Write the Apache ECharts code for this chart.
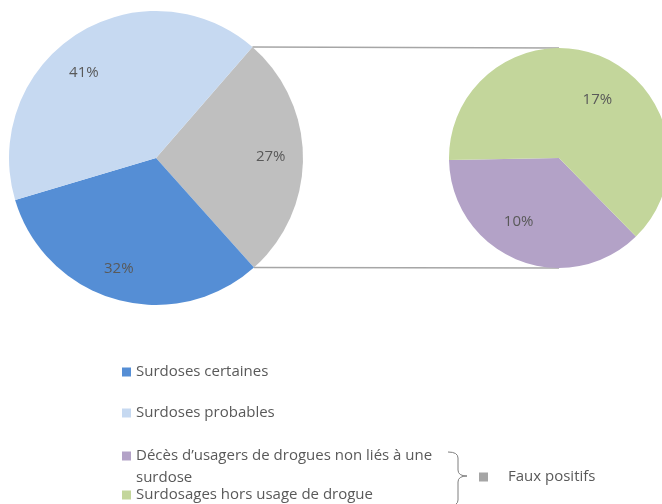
<!DOCTYPE html>
<html>
<head>
<meta charset="utf-8">
<script src="https://cdn.jsdelivr.net/npm/echarts@6/dist/echarts.min.js"></script>
<style>
  html, body { margin: 0; padding: 0; background: #ffffff; }
  #chart { width: 662px; height: 504px; }
</style>
</head>
<body>
<div id="chart"></div>
<script>
// Main pie: all deaths flagged, in percent
const mainCategories = ['Faux positifs', 'Surdoses certaines', 'Surdoses probables'];
const mainValues = [27, 32, 41];

// Secondary pie: breakdown of the false positives, in percent of all deaths
const detailCategories = ['Décès d’usagers de drogues non liés à une surdose', 'Surdosages hors usage de drogue'];
const detailValues = [10, 17];

// Legend order as displayed under the pies
const legendOrder = ['Surdoses certaines', 'Surdoses probables',
  'Décès d’usagers de drogues non liés à une surdose', 'Surdosages hors usage de drogue'];
const groupLabel = 'Faux positifs';

// ---- styling and layout ----
const COLORS = {
  'Faux positifs': '#bfbfbf',
  'Surdoses certaines': '#558ed5',
  'Surdoses probables': '#c6d9f1',
  'Décès d’usagers de drogues non liés à une surdose': '#b3a2c7',
  'Surdosages hors usage de drogue': '#c3d69b'
};
const FONT = 'Open Sans';
const FONT_SIZE = 15;
const TEXT_COLOR = '#595959';
const MAIN_C = [156, 158], MAIN_R = 147, MAIN_START = 49;
const DET_C = [559, 158], DET_R = 110, DET_START = 314.4;
const DET_LABEL_TURN = -10;   // label ring of the small pie sits a little ahead of slice middles
// small per-label shifts away from the slice middle (px)
const LABEL_NUDGE = {
  'Surdoses probables': [-10, 11],
  'Surdoses certaines': [-6, 0],
  'Surdosages hors usage de drogue': [-2, 6]
};

const pct = p => p.value + '%';
const rad = a => a * Math.PI / 180;

function pieData(names, values) {
  return names.map((n, i) => ({ name: n, value: values[i], itemStyle: { color: COLORS[n] } }));
}
function labelRing(names, values, center, r, inner, start) {
  return {
    type: 'pie', silent: true, center: center, radius: [r * inner, r],
    startAngle: start, clockwise: true, animation: false, z: 5,
    data: names.map((n, i) => ({ name: n, value: values[i] })),
    itemStyle: { color: 'rgba(0,0,0,0)' },
    label: { show: true, position: 'inside', formatter: pct,
             fontFamily: FONT, fontSize: FONT_SIZE, color: TEXT_COLOR },
    labelLine: { show: false },
    labelLayout: p => {
      const d = LABEL_NUDGE[names[p.dataIndex]] || [0, 0];
      return { dx: d[0], dy: d[1] };
    },
    emphasis: { disabled: true }
  };
}

// connector lines from the edges of the false-positive slice to the small pie
const mainTotal = mainValues.reduce((a, b) => a + b, 0);
const a0 = MAIN_START;
const a1 = MAIN_START - mainValues[0] / mainTotal * 360;
const edge = a => [MAIN_C[0] + MAIN_R * Math.cos(rad(a)), MAIN_C[1] - MAIN_R * Math.sin(rad(a))];
const p0 = edge(a0), p1 = edge(a1);

// legend rows: [name, left, top]
const legendRows = [
  [legendOrder[0], 122, 364],
  [legendOrder[1], 122, 405],
  [legendOrder[2], 122, 423],
  [legendOrder[3], 122, 487]
];
// the long entry wraps; a leading empty line keeps its first line level with the swatch
const legendText = n => n === legendOrder[2]
  ? '\u00a0\nDécès d’usagers de drogues non liés à une\nsurdose' : n;
const legends = legendRows.map(([name, left, top]) => ({
  left: left, top: top, padding: 0, orient: 'vertical', selectedMode: false,
  icon: 'rect', itemWidth: 9, itemHeight: 9,
  data: [name],
  formatter: legendText,
  textStyle: { fontFamily: FONT, fontSize: FONT_SIZE, color: TEXT_COLOR,
               lineHeight: name === legendOrder[2] ? 22 : 16 }
}));
legends.push({
  left: 479, top: 469, padding: 0, selectedMode: false,
  icon: 'rect', itemWidth: 9, itemHeight: 9, itemGap: 0,
  data: [{ name: groupLabel, itemStyle: { color: '#a5a5a5' } }],
  formatter: n => '\u2003' + n,
  textStyle: { fontFamily: FONT, fontSize: FONT_SIZE, color: TEXT_COLOR, lineHeight: 16 }
});

// brace grouping the two false-positive categories
const braceStyle = { stroke: '#7f7f7f', lineWidth: 1, fill: 'none' };
const brace = [
  { type: 'bezierCurve', shape: { x1: 448, y1: 452, x2: 458, y2: 458, cpx1: 458, cpy1: 452 } },
  { type: 'line', shape: { x1: 458, y1: 458, x2: 458, y2: 470 } },
  { type: 'bezierCurve', shape: { x1: 458, y1: 470, x2: 467, y2: 476, cpx1: 458, cpy1: 476 } },
  { type: 'bezierCurve', shape: { x1: 467, y1: 476, x2: 458, y2: 482, cpx1: 458, cpy1: 476 } },
  { type: 'line', shape: { x1: 458, y1: 482, x2: 458, y2: 500 } },
  { type: 'bezierCurve', shape: { x1: 458, y1: 500, x2: 448, y2: 506, cpx1: 458, cpy1: 506 } }
].map(e => Object.assign(e, { z: 10, style: braceStyle }));

const chart = echarts.init(document.getElementById('chart'), null, { renderer: 'canvas' });
chart.setOption({
  backgroundColor: '#ffffff',
  animation: false,
  legend: legends,
  series: [
    {
      type: 'pie', center: MAIN_C, radius: MAIN_R, startAngle: MAIN_START, clockwise: true,
      data: pieData(mainCategories, mainValues),
      label: { show: false }, labelLine: { show: false },
      itemStyle: { borderWidth: 0 }, emphasis: { disabled: true }
    },
    {
      type: 'pie', center: DET_C, radius: DET_R, startAngle: DET_START, clockwise: true,
      data: pieData(detailCategories, detailValues),
      label: { show: false }, labelLine: { show: false },
      itemStyle: { borderWidth: 0 }, emphasis: { disabled: true }
    },
    labelRing(mainCategories, mainValues, MAIN_C, MAIN_R, 0.52, MAIN_START),
    labelRing(detailCategories, detailValues, DET_C, DET_R, 0.32, DET_START + DET_LABEL_TURN)
  ],
  graphic: [
    { type: 'line', z: 0, shape: { x1: p0[0], y1: p0[1], x2: DET_C[0], y2: DET_C[1] - DET_R },
      style: { stroke: '#a6a6a6', lineWidth: 1.5 } },
    { type: 'line', z: 0, shape: { x1: p1[0], y1: p1[1], x2: DET_C[0], y2: DET_C[1] + DET_R },
      style: { stroke: '#a6a6a6', lineWidth: 1.5 } }
  ].concat(brace)
});
</script>
</body>
</html>
